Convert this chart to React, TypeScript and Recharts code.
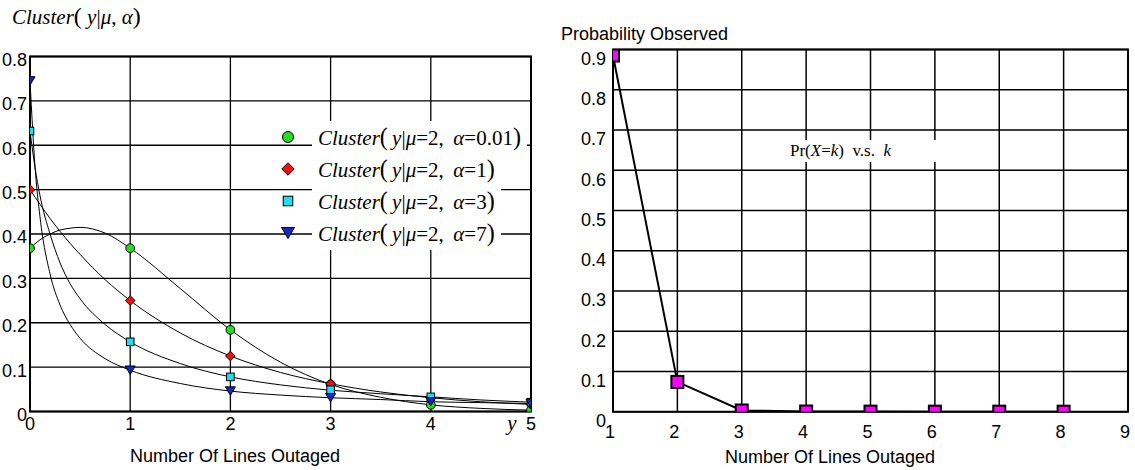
import React from 'react'
import { ComposedChart, Line, XAxis, YAxis, CartesianGrid, ReferenceArea, Legend } from 'recharts'

const SANS = '"Liberation Sans", Arial, Helvetica, sans-serif'
const SERIF = '"Liberation Serif", "Times New Roman", Times, serif'

// ---- left panel: Cluster(y | mu = 2, alpha) ----
const xTicksLeft = [0, 1, 2, 3, 4, 5]
const yTicksLeft = [0, 0.1, 0.2, 0.3, 0.4, 0.5, 0.6, 0.7, 0.8]
const alphaLabels = ['0.01', '1', '3', '7']

// marker values at y = 0..5
const markX = [0, 1, 2, 3, 4, 5]
const markA001 = [0.368, 0.368, 0.184, 0.061, 0.015, 0.003]
const markA1 = [0.5, 0.25, 0.125, 0.0625, 0.031, 0.016]
const markA3 = [0.632, 0.157, 0.078, 0.049, 0.033, 0.021]
const markA7 = [0.745, 0.093, 0.046, 0.031, 0.022, 0.018]

// smooth curves
const curveX = [0, 0.05, 0.1, 0.2, 0.3, 0.4, 0.5, 0.75, 1, 1.5, 2, 2.5, 3, 3.5, 4, 4.5, 5]
const curveA001 = [0.368, 0.378, 0.387, 0.4, 0.409, 0.413, 0.415, 0.402, 0.368, 0.277, 0.184, 0.111, 0.061, 0.032, 0.015, 0.007, 0.003]
const curveA1 = [0.5, 0.483, 0.467, 0.435, 0.406, 0.379, 0.354, 0.297, 0.25, 0.177, 0.125, 0.088, 0.0625, 0.044, 0.031, 0.022, 0.016]
const curveA3 = [0.632, 0.55, 0.486, 0.4, 0.335, 0.288, 0.254, 0.196, 0.157, 0.108, 0.078, 0.06, 0.048, 0.04, 0.033, 0.026, 0.021]
const curveA7 = [0.745, 0.552, 0.438, 0.31, 0.24, 0.196, 0.165, 0.119, 0.093, 0.063, 0.046, 0.037, 0.031, 0.027, 0.022, 0.02, 0.018]

// ---- right panel: observed probability ----
const kValues = [1, 2, 3, 4, 5, 6, 7, 8]
const probObserved = [0.885, 0.074, 0.003, 0.0005, 0.0002, 0.0001, 0.0001, 0]
const xTicksRight = [1, 2, 3, 4, 5, 6, 7, 8, 9]
const yTicksRight = [0, 0.1, 0.2, 0.3, 0.4, 0.5, 0.6, 0.7, 0.8, 0.9]

const toPts = (xs: number[], vs: number[]) => xs.map((x, i) => ({ x, v: vs[i] }))

type Kind = 'circle' | 'diamond' | 'square' | 'tri'

const series = [
  { alpha: alphaLabels[0], kind: 'circle' as Kind, color: '#22dd22', marks: toPts(markX, markA001), curve: toPts(curveX, curveA001) },
  { alpha: alphaLabels[1], kind: 'diamond' as Kind, color: '#ee1111', marks: toPts(markX, markA1), curve: toPts(curveX, curveA1) },
  { alpha: alphaLabels[2], kind: 'square' as Kind, color: '#22dded', marks: toPts(markX, markA3), curve: toPts(curveX, curveA3) },
  { alpha: alphaLabels[3], kind: 'tri' as Kind, color: '#1428c0', marks: toPts(markX, markA7), curve: toPts(curveX, curveA7) },
]

const rightData = kValues.map((k, i) => ({ x: k, p: probObserved[i] }))

function Marker({ kind, cx, cy, s, color }: { kind: Kind; cx: number; cy: number; s: number; color: string }) {
  if (kind === 'circle') return <circle cx={cx} cy={cy} r={s} fill={color} stroke="#000" strokeWidth={1} />
  if (kind === 'diamond')
    return <polygon points={`${cx},${cy - s} ${cx + s},${cy} ${cx},${cy + s} ${cx - s},${cy}`} fill={color} stroke="#000" strokeWidth={1} />
  if (kind === 'square') return <rect x={cx - s} y={cy - s} width={2 * s} height={2 * s} fill={color} stroke="#000" strokeWidth={1} />
  const h = s * 0.85
  return <polygon points={`${cx - s},${cy - h} ${cx + s},${cy - h} ${cx},${cy + h}`} fill={color} stroke="#000" strokeWidth={1} />
}

const plotSize: Record<Kind, number> = { circle: 4.4, diamond: 4.8, square: 3.8, tri: 5 }
const legendSize: Record<Kind, number> = { circle: 5.5, diamond: 6.2, square: 4.8, tri: 6.5 }

const Paren = ({ c }: { c: string }) => <span style={{ fontSize: '1.15em', fontStyle: 'normal' }}>{c}</span>

function ClusterText({ alpha }: { alpha: string }) {
  return (
    <span>
      <i>Cluster</i>
      <Paren c="(" />
      <i>&thinsp;y</i>|<i>μ</i>=2,&nbsp;&thinsp;<i>α</i>={alpha}
      <Paren c=")" />
    </span>
  )
}

function LeftLegend() {
  return (
    <div style={{ fontFamily: SERIF, fontSize: 21, color: '#000' }}>
      {series.map(s => (
        <div key={s.alpha} style={{ display: 'flex', alignItems: 'center', height: 32 }}>
          <svg width={20} height={20} style={{ flex: 'none', marginRight: 14.5 }}>
            <Marker kind={s.kind} cx={10} cy={10} s={legendSize[s.kind]} color={s.color} />
          </svg>
          <div style={{ background: '#fff', padding: '0 6px', whiteSpace: 'nowrap', lineHeight: '32px', height: 33 }}>
            <ClusterText alpha={s.alpha} />
          </div>
        </div>
      ))}
    </div>
  )
}

function RightLegend() {
  return (
    <div style={{ fontFamily: SERIF, fontSize: 17, color: '#000', background: '#fff', padding: '0 4px', lineHeight: '22px', whiteSpace: 'pre' }}>
      Pr(<i>X</i>=<i>k</i>)  v.s.  <i>k</i>
    </div>
  )
}

const tickStyle = { fill: '#000', fontSize: 18, fontFamily: SANS }

const leftTitle = (props: any) => {
  const vb = props.viewBox || { x: 0, y: 56.5 }
  return (
    <text x={vb.x + 12} y={vb.y - 33} fontFamily={SERIF} fontSize={21} fill="#000">
      <tspan fontStyle="italic">Cluster</tspan>
      <tspan fontSize={24}>(</tspan>
      <tspan fontStyle="italic"> y</tspan>
      <tspan>|</tspan>
      <tspan fontStyle="italic">μ</tspan>
      <tspan>, </tspan>
      <tspan fontStyle="italic">α</tspan>
      <tspan fontSize={24}>)</tspan>
    </text>
  )
}

const leftXLabel = (props: any) => {
  const vb = props.viewBox || { x: 30, y: 411.5 }
  return (
    <g>
      <text x={vb.x + 205} y={vb.y + 50} textAnchor="middle" fontFamily={SANS} fontSize={18} fill="#000">
        Number Of Lines Outaged
      </text>
      <text x={vb.x + 482} y={vb.y + 18} textAnchor="middle" fontFamily={SERIF} fontStyle="italic" fontSize={21} fill="#000">
        y
      </text>
    </g>
  )
}

const rightYLabel = (props: any) => {
  const vb = props.viewBox || { x: 0, y: 49.5 }
  return (
    <text x={vb.x + 1} y={vb.y - 10} fontFamily={SANS} fontSize={18} fill="#000">
      Probability Observed
    </text>
  )
}

const rightXLabel = (props: any) => {
  const vb = props.viewBox || { x: 53, y: 411.7 }
  return (
    <text x={vb.x + 217} y={vb.y + 51.7} textAnchor="middle" fontFamily={SANS} fontSize={18} fill="#000">
      Number Of Lines Outaged
    </text>
  )
}

const fmt = (v: number) => (v === 0 ? '0' : String(v))

export default function App() {
  return (
    <div style={{ position: 'fixed', left: 0, top: 0, width: 1135, height: 470, background: '#fff', overflow: 'hidden' }}>
      <div style={{ position: 'absolute', left: 0, top: 0 }}>
        <ComposedChart width={560} height={470} margin={{ top: 56.5, right: 29, bottom: 28.5, left: 0 }} style={{ fontFamily: SANS }}>
          <CartesianGrid stroke="#000" strokeWidth={1.3} />
          <XAxis
            type="number"
            dataKey="x"
            domain={[0, 5]}
            ticks={xTicksLeft}
            allowDataOverflow
            height={30}
            axisLine={false}
            tickLine={false}
            tickSize={0}
            tickMargin={6}
            tick={tickStyle}
            label={leftXLabel}
          />
          <YAxis
            type="number"
            domain={[0, 0.8]}
            ticks={yTicksLeft}
            allowDataOverflow
            width={30}
            axisLine={false}
            tickLine={false}
            tickSize={0}
            tickMargin={3}
            tick={{ ...tickStyle, dy: 3 }}
            tickFormatter={fmt}
            label={leftTitle}
          />
          <ReferenceArea x1={0} x2={5} y1={0} y2={0.8} fill="none" stroke="#000" strokeWidth={2} ifOverflow="visible" />
          {series.map(s => (
            <Line
              key={'m' + s.alpha}
              data={s.marks}
              dataKey="v"
              stroke="none"
              legendType="none"
              isAnimationActive={false}
              dot={(p: any) => <Marker key={`m${s.alpha}-${p.index}`} kind={s.kind} cx={p.cx} cy={p.cy} s={plotSize[s.kind]} color={s.color} />}
              activeDot={false}
            />
          ))}
          {series.map(s => (
            <Line
              key={'c' + s.alpha}
              data={s.curve}
              dataKey="v"
              type="monotone"
              stroke="#000"
              strokeWidth={1}
              dot={false}
              activeDot={false}
              legendType="none"
              isAnimationActive={false}
            />
          ))}
          <Legend
            layout="vertical"
            align="center"
            verticalAlign="middle"
            content={() => <LeftLegend />}
            wrapperStyle={{ position: 'absolute', left: 277.5, top: 121, width: 260, height: 'auto' }}
          />
        </ComposedChart>
      </div>

      <div style={{ position: 'absolute', left: 560, top: 0 }}>
        <ComposedChart width={575} height={470} margin={{ top: 49.5, right: 7, bottom: 28.3, left: 0 }} style={{ fontFamily: SANS }}>
          <CartesianGrid stroke="#000" strokeWidth={1.5} />
          <XAxis
            type="number"
            dataKey="x"
            domain={[1, 9]}
            ticks={xTicksRight}
            allowDataOverflow
            height={30}
            axisLine={false}
            tickLine={false}
            tickSize={0}
            tickMargin={14}
            tick={{ ...tickStyle, dx: -3 }}
            label={rightXLabel}
          />
          <YAxis
            type="number"
            domain={[0, 0.9]}
            ticks={yTicksRight}
            allowDataOverflow
            width={53}
            axisLine={false}
            tickLine={false}
            tickSize={0}
            tickMargin={7}
            tick={{ ...tickStyle, dy: 9 }}
            tickFormatter={fmt}
            label={rightYLabel}
          />
          <ReferenceArea x1={1} x2={9} y1={0} y2={0.9} fill="none" stroke="#000" strokeWidth={2} ifOverflow="visible" />
          <Line
            data={rightData}
            dataKey="p"
            type="linear"
            stroke="#000"
            strokeWidth={2}
            isAnimationActive={false}
            activeDot={false}
            dot={(p: any) => (
              <rect key={`k-${p.index}`} x={p.cx - 6} y={p.cy - 6} width={12} height={12} fill="#ff00ff" stroke="#000" strokeWidth={2} />
            )}
          />
          <Legend
            layout="vertical"
            align="center"
            verticalAlign="middle"
            content={() => <RightLegend />}
            wrapperStyle={{ position: 'absolute', left: 226, top: 140, width: 150, height: 'auto' }}
          />
        </ComposedChart>
      </div>
    </div>
  )
}
